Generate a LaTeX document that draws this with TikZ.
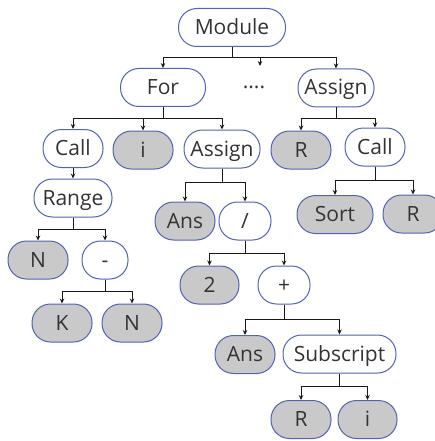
\documentclass[tikz,border=0pt]{standalone}
\usepackage{fontspec}
\setmainfont{Open Sans}
\usetikzlibrary{arrows.meta}
\definecolor{edgeblue}{HTML}{5262B6}
\definecolor{leafgray}{HTML}{C9C9C9}
\definecolor{txt}{HTML}{333333}
\tikzset{
  tnode/.style={draw=edgeblue, line width=1pt, rounded corners=18.5pt, fill=white,
    minimum height=38pt, text height=17pt, text depth=3pt, inner xsep=4pt,
    text=txt, font=\fontsize{21}{24}\selectfont},
  leaf/.style={tnode, fill=leafgray},
  arr/.style={draw=black!90, line width=1pt, -{Stealth[length=5pt,width=4.5pt]}},
}
\newcommand{\branch}[3]{\draw[arr] (#1.south) -- ++(0,#3) -| (#2.north);}
\begin{document}
\begin{tikzpicture}[x=1pt,y=-1pt]
\useasboundingbox (0,0) rectangle (435,441);
\clip (0,0) rectangle (435,441);
\node[tnode, minimum width=107pt] (module) at (232,27.5) {Module};
\node[tnode, minimum width=85pt] (for) at (163,87.5) {For};
\node[text=txt, font=\fontsize{21}{24}\selectfont, anchor=base, inner sep=0pt] (dots) at (254,89) {....};
\coordinate (dotsin) at (260,66);
\node[tnode, minimum width=76pt] (assignA) at (336,88) {Assign};
\node[tnode, minimum width=60pt] (callA) at (73,148.5) {Call};
\node[leaf, minimum width=60pt] (iA) at (143,150) {i};
\node[tnode, minimum width=76pt] (assignB) at (222,149) {Assign};
\node[leaf, minimum width=60pt] (rA) at (301,150) {R};
\node[tnode, minimum width=60pt] (callB) at (375,147) {Call};
\node[tnode, minimum width=78pt] (range) at (73,198) {Range};
\node[leaf, minimum width=60pt] (ansA) at (185,221) {Ans};
\node[tnode, minimum width=52pt] (slash) at (245,221) {/};
\node[leaf, minimum width=76pt] (sort) at (335,214.5) {Sort};
\node[leaf, minimum width=60pt] (rB) at (413,214) {R};
\node[leaf, minimum width=60pt] (nA) at (38,260) {N};
\node[tnode, minimum width=46pt] (minus) at (105,260) {-};
\node[leaf, minimum width=59pt] (two) at (209.5,285) {2};
\node[tnode, minimum width=52pt] (plus) at (284,285) {+};
\node[leaf, minimum width=60pt] (k) at (62,323) {K};
\node[leaf, minimum width=60pt] (nB) at (132,323) {N};
\node[leaf, minimum width=60pt] (ansB) at (245,354.5) {Ans};
\node[tnode, minimum width=113pt] (subscript) at (339.5,354) {Subscript};
\node[leaf, minimum width=60pt] (rC) at (301,419.5) {R};
\node[leaf, minimum width=59pt] (iB) at (367.5,419.5) {i};
% connectors
\branch{module}{for}{11}
\draw[arr] (module.south) -- ++(0,11) -| (dotsin);
\branch{module}{assignA}{11}
\branch{for}{callA}{11}
\branch{for}{iA}{11}
\branch{for}{assignB}{11}
\branch{assignA}{rA}{11}
\branch{assignA}{callB}{11}
\draw[arr] (callA.south) -- (range.north);
\branch{assignB}{ansA}{14}
\branch{assignB}{slash}{14}
\branch{callB}{sort}{14}
\branch{callB}{rB}{14}
\branch{range}{nA}{12}
\branch{range}{minus}{12}
\branch{slash}{two}{13}
\branch{slash}{plus}{13}
\branch{minus}{k}{12}
\branch{minus}{nB}{12}
\branch{plus}{ansB}{15}
\branch{plus}{subscript}{15}
\branch{subscript}{rC}{13}
\branch{subscript}{iB}{13}
\end{tikzpicture}
\end{document}
